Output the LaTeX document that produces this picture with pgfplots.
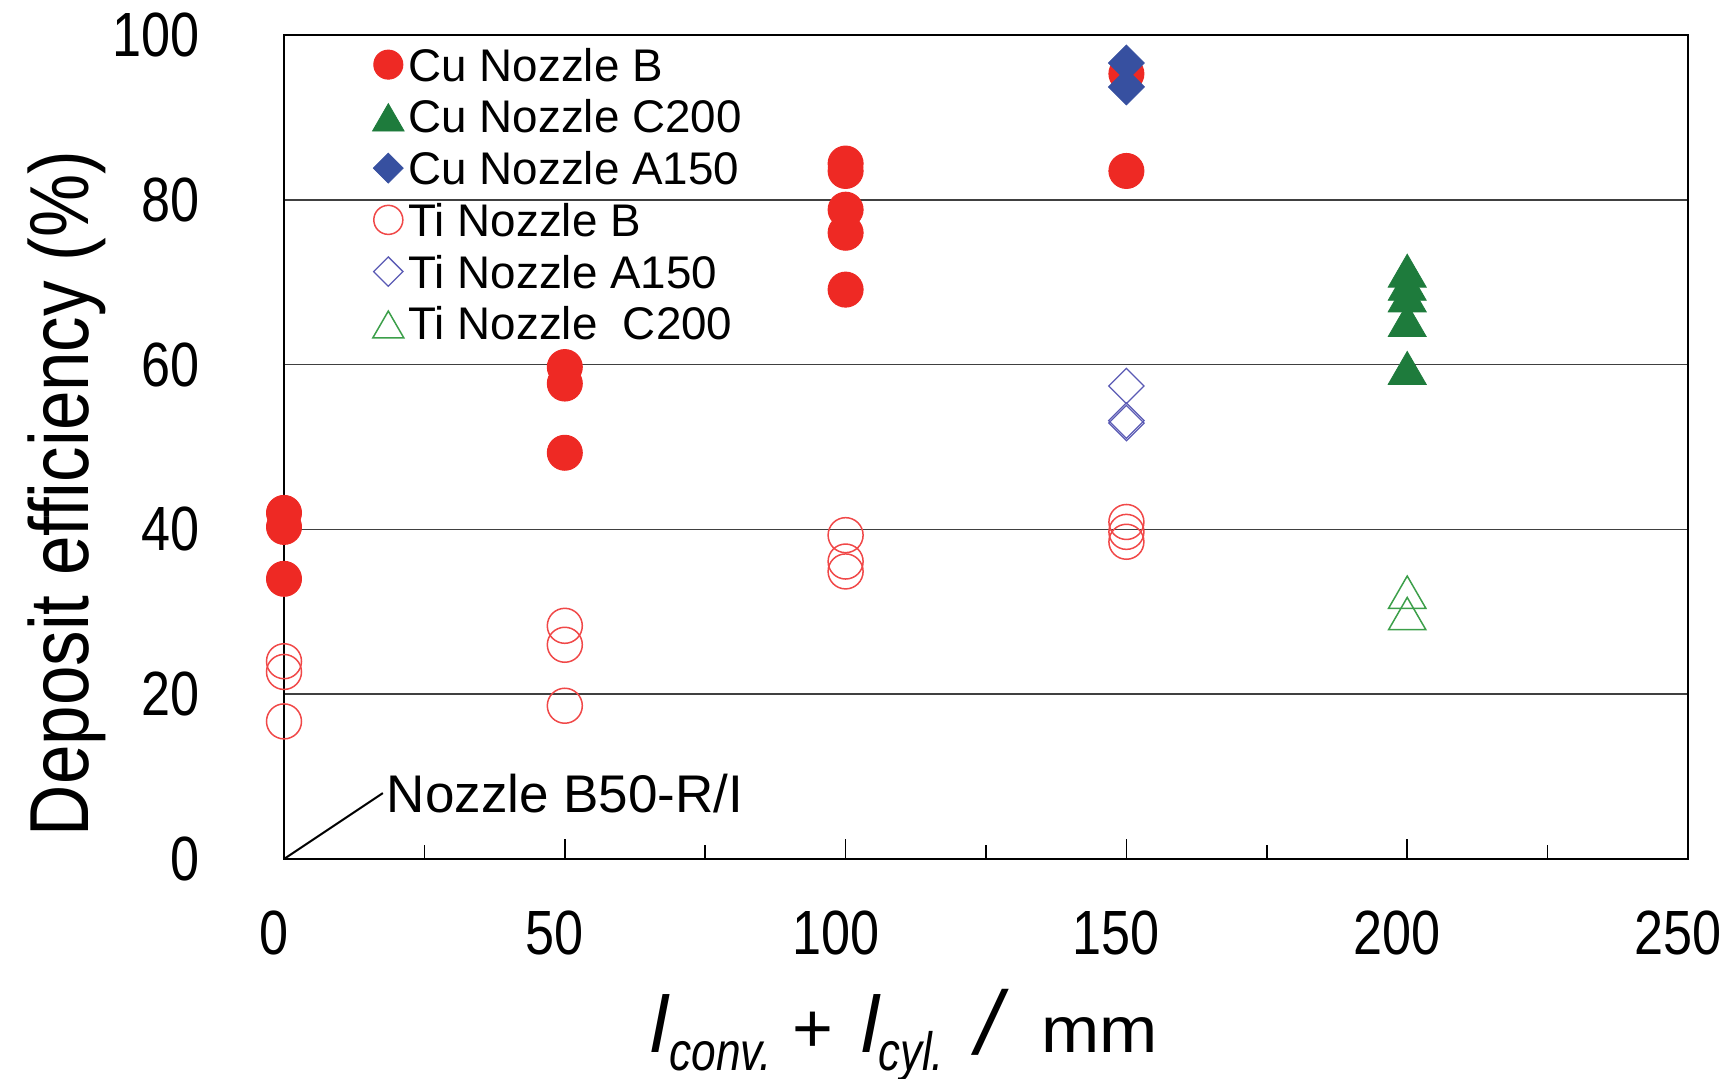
\documentclass[border=0pt]{standalone}
\usepackage{fontspec}
\setmainfont{Liberation Sans}
\newfontfamily\condfont{Liberation Sans}[FakeStretch=0.835]
\newfontfamily\ylabfont{Liberation Sans}[FakeStretch=0.848]
\usepackage{graphicx}
\usepackage{pgfplots}
\pgfplotsset{compat=1.18}
\definecolor{cured}{HTML}{EE2924}
\definecolor{cugreen}{HTML}{1E7B3C}
\definecolor{cublue}{HTML}{3750A0}
\definecolor{tired}{HTML}{F04848}
\definecolor{tiblue}{HTML}{5A5AB4}
\definecolor{tigreen}{HTML}{3C9F4A}
\begin{document}
\begin{tikzpicture}[x=1pt,y=1pt]
\path[use as bounding box] (0,0) rectangle (693.2,431.2);
\begin{axis}[
  at={(113.6pt,87.6pt)}, anchor=south west,
  scale only axis, width=561.6pt, height=329.6pt,
  xmin=0, xmax=250, ymin=0, ymax=100,
  xtick={0,50,...,250}, minor xtick={25,75,...,225},
  ytick={0,20,...,100},
  xtick pos=bottom, tick align=inside,
  major tick length=8pt, minor tick length=5.6pt,
  ytick style={draw=none},
  x tick style={line width=0.6pt, black},
  ymajorgrids, major grid style={line width=0.7pt, color=black!75},
  axis line style={line width=0.8pt},
  /pgf/number format/assume math mode=true,
  tick label style={font=\condfont\fontsize{25}{30}\selectfont},
  yticklabel style={anchor=east, inner sep=0pt, xshift=-33.6pt},
  xticklabel style={anchor=north, inner sep=0pt, yshift=-20.4pt, xshift=-4pt},
  clip=false,
  legend image code/.code={\draw[mark repeat=2,mark phase=2,#1] plot coordinates {(0pt,0pt) (9pt,0pt) (18pt,0pt)};},
  legend cell align=left,
  legend style={at={(0,1)}, anchor=north west, xshift=35.4pt, yshift=-5.2pt,
    draw=none, fill=none, inner sep=0pt, outer sep=0pt,
    row sep=7.4pt, column sep=1.8pt,
    font=\fontsize{18.3}{20}\selectfont,
    nodes={inner sep=0pt, text height=13.3pt, text depth=0pt}},
]
\addplot[only marks, mark=*, mark size=7.0pt, color=cured,
  mark options={draw=cured, fill=cured, line width=0.4pt},
  legend image post style={every mark/.append style={scale=0.83}}]
  coordinates {(0,42.0)(0,40.3)(0,34.0)(50,59.7)(50,57.7)(50,49.3)
  (100,84.4)(100,83.5)(100,78.8)(100,76.0)(100,69.1)(150,95.3)(150,83.5)};
\addlegendentry{Cu Nozzle B}
\addplot[only marks, mark=triangle*, mark size=8.8pt, color=cugreen,
  mark options={draw=cugreen, fill=cugreen, line width=0.3pt, yshift=-2.2pt},
  legend image post style={every mark/.append style={scale=0.83}}]
  coordinates {(200,71.4)(200,69.8)(200,68.4)(200,65.4)(200,59.6)};
\addlegendentry{Cu Nozzle C200}
\addplot[only marks, mark=square*, mark size=5.1pt, color=cublue,
  mark options={draw=cublue, fill=cublue, line width=0.3pt, rotate=45},
  legend image post style={every mark/.append style={scale=0.83}}]
  coordinates {(150,96.6)(150,93.7)};
\addlegendentry{Cu Nozzle A150}
\addplot[only marks, mark=o, mark size=7.0pt, color=tired,
  mark options={draw=tired, line width=0.6pt},
  legend image post style={every mark/.append style={scale=0.83}}]
  coordinates {(0,24.0)(0,22.7)(0,16.7)(50,28.3)(50,26.0)(50,18.6)
  (100,39.3)(100,36.1)(100,34.9)(150,40.9)(150,39.7)(150,38.5)};
\addlegendentry{Ti Nozzle B}
\addplot[only marks, mark=square, mark size=5.0pt, color=tiblue,
  mark options={draw=tiblue, line width=0.5pt, rotate=45},
  legend image post style={every mark/.append style={scale=0.83}}]
  coordinates {(150,57.4)(150,53.2)(150,52.9)};
\addlegendentry{Ti Nozzle A150}
\addplot[only marks, mark=triangle, mark size=8.6pt, color=tigreen,
  mark options={draw=tigreen, line width=0.6pt, yshift=-2.2pt},
  legend image post style={every mark/.append style={scale=0.83}}]
  coordinates {(200,32.4)(200,29.8)};
\addlegendentry{Ti Nozzle\ \ C200}
\draw[line width=0.8pt] (axis cs:0,0) -- (axis cs:17.6,8.0)
  node[anchor=west, inner sep=1.2pt, font=\fontsize{21.2}{24}\selectfont] {Nozzle B50-R/I};
\end{axis}
% y label
\node[rotate=90, anchor=base, inner sep=0pt] at (35.2,233.8)
  {\ylabfont\fontsize{33.5}{36}\selectfont Deposit efficiency (\%)};
% x label
\node[anchor=base west, inner sep=0pt] at (259.8,10.4) {\fontsize{32}{32}\selectfont\itshape l};
\node[anchor=base west, inner sep=0pt] at (267.6,3.2) {\scalebox{0.82}[1]{\fontsize{21.6}{22}\selectfont\itshape conv.}};
\node[anchor=base west, inner sep=0pt] at (316.8,10.4) {\fontsize{28}{30}\selectfont +};
\node[anchor=base west, inner sep=0pt] at (344.3,10.4) {\fontsize{32}{32}\selectfont\itshape l};
\node[anchor=base west, inner sep=0pt] at (351.2,3.2) {\scalebox{0.81}[1]{\fontsize{21.6}{22}\selectfont\itshape cyl.}};
\node[anchor=base west, inner sep=0pt] at (390.5,9.4) {\fontsize{36}{38}\selectfont\itshape /};
\node[anchor=base west, inner sep=0pt] at (416.2,10.4) {\scalebox{1.075}[1]{\fontsize{26}{28}\selectfont mm}};
\end{tikzpicture}
\end{document}
